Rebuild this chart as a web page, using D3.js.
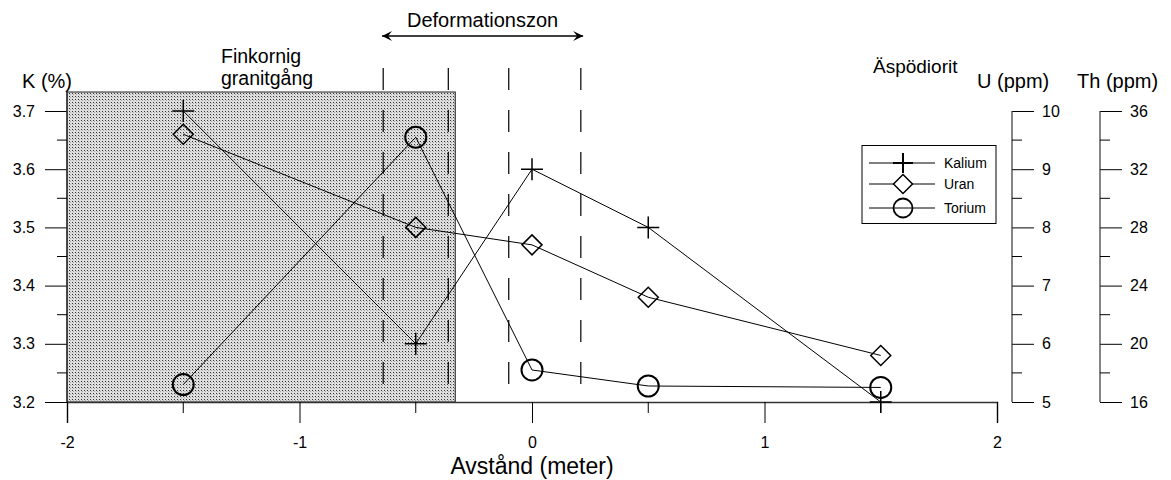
<!DOCTYPE html>
<html><head><meta charset="utf-8">
<script src="https://cdn.jsdelivr.net/npm/d3@7"></script>
<style>body{margin:0;background:#fff}svg{display:block;font-family:"Liberation Sans",Arial,sans-serif}</style>
</head><body><svg id="c" width="1171" height="480"></svg>
<script>
const positions = [-1.5, -0.5, 0, 0.5, 1.5];
const kalium = [3.7, 3.3, 3.6, 3.5, 3.2];
const uran = [9.6, 8.0, 7.7, 6.8, 5.8];
const torium = [17.2, 34.2, 18.2, 17.1, 17.0];
const xTicks = [-2, -1, 0, 1, 2];
const xMinor = [-1.5, -0.5, 0.5, 1.5];
const kTicks = [3.2, 3.3, 3.4, 3.5, 3.6, 3.7];
const kMinor = [3.25, 3.35, 3.45, 3.55, 3.65];
const uTicks = [5, 6, 7, 8, 9, 10];
const uMinor = [5.5, 6.5, 7.5, 8.5, 9.5];
const thTicks = [16, 20, 24, 28, 32, 36];
const thMinor = [18, 22, 26, 30, 34];
const zoneLines = [-0.64, -0.36, -0.1, 0.21];
const dykeRange = [-2, -0.33];
const arrowRange = [-0.645, 0.22];
const legendNames = ["Kalium", "Uran", "Torium"];

const svg = d3.select("#c");
const x = d3.scaleLinear().domain([-2, 2]).range([67, 997]);
const yK = d3.scaleLinear().domain([3.2, 3.7]).range([402, 111]);
const yU = d3.scaleLinear().domain([5, 10]).range([402, 111]);
const yTh = d3.scaleLinear().domain([16, 36]).range([402, 111]);
const plotTop = 92;

const defs = svg.append("defs");
const pat = defs.append("pattern").attr("id", "dots").attr("patternUnits", "userSpaceOnUse")
  .attr("width", 3).attr("height", 3);
pat.append("rect").attr("width", 3).attr("height", 3).attr("fill", "#dedede");
pat.append("rect").attr("width", 1).attr("height", 1).attr("fill", "#333");
pat.append("rect").attr("x", 1).attr("y", 1).attr("width", 1).attr("height", 1).attr("fill", "#aaa");
defs.append("marker").attr("id", "arr").attr("viewBox", "0 0 12 12")
  .attr("refX", 11).attr("refY", 6).attr("markerWidth", 12).attr("markerHeight", 12)
  .attr("markerUnits", "userSpaceOnUse").attr("orient", "auto-start-reverse")
  .append("path").attr("d", "M1,1 L11,6 L1,11 L5,6 Z").attr("fill", "#000");

// shaded dyke
svg.append("rect").attr("x", x(dykeRange[0])).attr("y", plotTop)
  .attr("width", x(dykeRange[1]) - x(dykeRange[0])).attr("height", yK(3.2) - plotTop)
  .attr("fill", "url(#dots)").attr("stroke", "#222").attr("stroke-width", 1);

// dashed zone lines
svg.selectAll(".zl").data(zoneLines).join("line")
  .attr("x1", d => x(d)).attr("x2", d => x(d)).attr("y1", 68).attr("y2", 402)
  .attr("stroke", "#000").attr("stroke-width", 1.2).attr("stroke-dasharray", "22,20");

const hy = f => d => f(d).replace("\u2212", "-");
// axes
const fs = 16;
const gx = svg.append("g").attr("transform", "translate(0,402)")
  .call(d3.axisBottom(x).tickValues(xTicks).tickSize(21).tickFormat(hy(d3.format("d"))).tickPadding(14));
gx.append("g").selectAll("line").data(xMinor).join("line")
  .attr("x1", d => x(d)).attr("x2", d => x(d)).attr("y1", 0).attr("y2", 11).attr("stroke", "#000");

const gk = svg.append("g").attr("transform", "translate(67,0)")
  .call(d3.axisLeft(yK).tickValues(kTicks).tickSize(22).tickFormat(d3.format(".1f")).tickPadding(10));
gk.select(".domain").remove();
gk.append("line").attr("x1", 0).attr("x2", 0).attr("y1", plotTop).attr("y2", 402).attr("stroke", "#333").attr("stroke-width", 1.5);
gk.append("g").selectAll("line").data(kMinor).join("line")
  .attr("x1", -10).attr("x2", 0).attr("y1", d => yK(d)).attr("y2", d => yK(d)).attr("stroke", "#000");

function rightAxis(scale, ticks, minor, xpos) {
  const g = svg.append("g").attr("transform", `translate(${xpos},0)`)
    .call(d3.axisRight(scale).tickValues(ticks).tickSize(22).tickFormat(d3.format("d")).tickPadding(8));
  g.select(".domain").remove();
  g.append("line").attr("x1", 0).attr("x2", 0).attr("y1", scale.range()[1]).attr("y2", scale.range()[0]).attr("stroke", "#333").attr("stroke-width", 1.2);
  g.append("g").selectAll("line").data(minor).join("line")
    .attr("x1", 0).attr("x2", 10).attr("y1", d => scale(d)).attr("y2", d => scale(d)).attr("stroke", "#000");
  return g;
}
rightAxis(yU, uTicks, uMinor, 1012);
rightAxis(yTh, thTicks, thMinor, 1100);

gx.select(".domain").attr("stroke", "#333").attr("stroke-width", 1.5);
svg.selectAll(".tick text").attr("font-size", fs).attr("font-family", "Liberation Sans, Arial, sans-serif").attr("fill", "#000");
svg.selectAll(".tick line").attr("stroke", "#000");

// data lines
const lineK = d3.line().x((d, i) => x(positions[i])).y(d => yK(d));
const lineU = d3.line().x((d, i) => x(positions[i])).y(d => yU(d));
const lineTh = d3.line().x((d, i) => x(positions[i])).y(d => yTh(d));
svg.append("path").attr("d", lineK(kalium)).attr("fill", "none").attr("stroke", "#000").attr("stroke-width", 1);
svg.append("path").attr("d", lineU(uran)).attr("fill", "none").attr("stroke", "#000").attr("stroke-width", 1);
svg.append("path").attr("d", lineTh(torium)).attr("fill", "none").attr("stroke", "#000").attr("stroke-width", 1);

const plusPath = s => `M${-s},0H${s}M0,${-s}V${s}`;
const diamPath = s => `M0,${-s}L${s},0L0,${s}L${-s},0Z`;
svg.selectAll(".pk").data(kalium).join("path")
  .attr("transform", (d, i) => `translate(${x(positions[i])},${yK(d)})`)
  .attr("d", plusPath(11)).attr("stroke", "#000").attr("stroke-width", 1.5).attr("fill", "none");
svg.selectAll(".pu").data(uran).join("path")
  .attr("transform", (d, i) => `translate(${x(positions[i])},${yU(d)})`)
  .attr("d", diamPath(10)).attr("stroke", "#000").attr("stroke-width", 1.5).attr("fill", "none");
svg.selectAll(".pt").data(torium).join("circle")
  .attr("cx", (d, i) => x(positions[i])).attr("cy", d => yTh(d)).attr("r", 10.5)
  .attr("stroke", "#000").attr("stroke-width", 2).attr("fill", "none");

// legend
const lg = svg.append("g");
lg.append("rect").attr("x", 862).attr("y", 145.5).attr("width", 134).attr("height", 78)
  .attr("fill", "#fff").attr("stroke", "#000").attr("stroke-width", 1);
const ly = [163, 184, 208];
legendNames.forEach((n, i) => {
  lg.append("line").attr("x1", 869).attr("x2", 935).attr("y1", ly[i]).attr("y2", ly[i]).attr("stroke", "#000");
  if (i === 0) lg.append("path").attr("transform", `translate(903,${ly[i]})`).attr("d", plusPath(10)).attr("stroke", "#000").attr("stroke-width", 2).attr("fill", "none");
  if (i === 1) lg.append("path").attr("transform", `translate(903,${ly[i]})`).attr("d", diamPath(9.5)).attr("stroke", "#000").attr("stroke-width", 1.5).attr("fill", "#fff");
  if (i === 2) lg.append("circle").attr("cx", 903).attr("cy", ly[i]).attr("r", 9.5).attr("stroke", "#000").attr("stroke-width", 1.8).attr("fill", "none");
  lg.append("text").attr("x", 944).attr("y", ly[i] + 5).attr("font-size", 14).text(n);
});

// labels
const lab = (t, xx, yy, size, anchor) => svg.append("text").attr("x", xx).attr("y", yy)
  .attr("font-size", size).attr("text-anchor", anchor || "start").attr("fill", "#000").text(t);
lab("K (%)", 22, 88, 20);
lab("U (ppm)", 977, 88, 20);
lab("Th (ppm)", 1077, 88, 20);
lab("Finkornig", 221, 63, 19.5);
lab("granitgång", 221, 85, 19.5);
lab("Deformationszon", (x(arrowRange[0]) + x(arrowRange[1])) / 2, 27, 20, "middle");
lab("Äspödiorit", 873, 73, 19);
lab("Avstånd (meter)", x(0), 474, 23, "middle");

svg.append("line").attr("x1", x(arrowRange[0])).attr("x2", x(arrowRange[1])).attr("y1", 36).attr("y2", 36)
  .attr("stroke", "#000").attr("stroke-width", 1.3)
  .attr("marker-start", "url(#arr)").attr("marker-end", "url(#arr)");
</script></body></html>
